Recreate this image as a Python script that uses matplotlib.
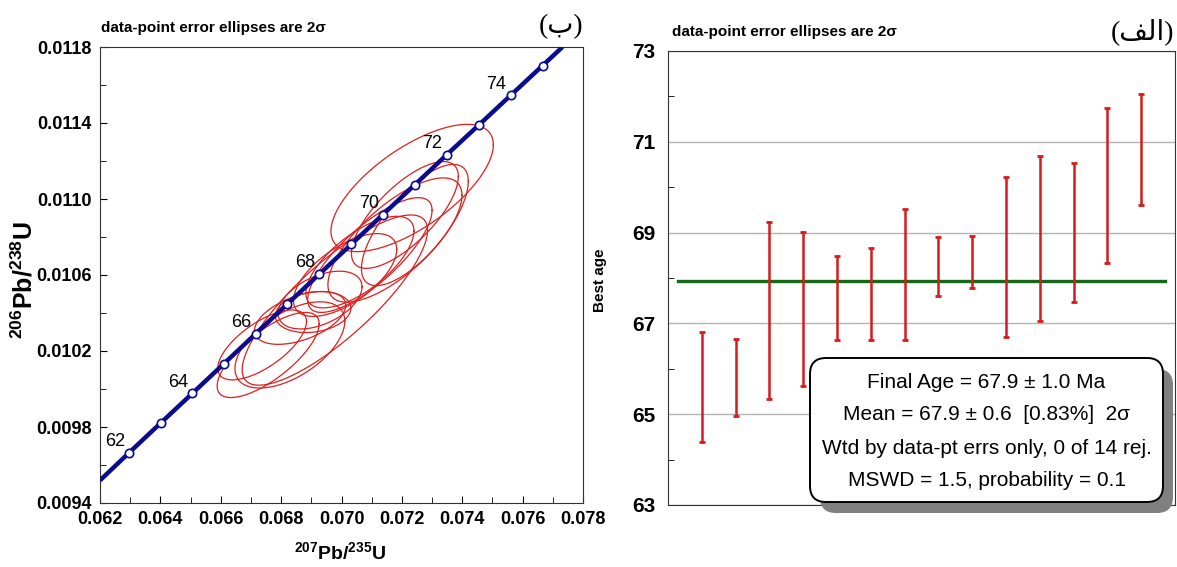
import numpy as np
import matplotlib
matplotlib.use("Agg")
import matplotlib.pyplot as plt
from matplotlib.patches import FancyBboxPatch
from matplotlib.ticker import MultipleLocator

plt.rcParams['font.family'] = ['Liberation Sans', 'DejaVu Sans']
plt.rcParams['mathtext.fontset'] = 'custom'
plt.rcParams['mathtext.rm'] = 'Liberation Sans'
plt.rcParams['mathtext.bf'] = 'Liberation Sans:bold'

# ---- concordia (left panel) ----
conc_age = [62, 63, 64, 65, 66, 67, 68, 69, 70, 71, 72, 73, 74, 75]
conc_x = [0.06296, 0.06401, 0.06506, 0.06611, 0.06716, 0.06821, 0.06926,
          0.07032, 0.07137, 0.07243, 0.07348, 0.07454, 0.07560, 0.07666]
conc_y = [0.009664, 0.009821, 0.009977, 0.010134, 0.010291, 0.010448, 0.010604,
          0.010761, 0.010918, 0.011075, 0.011232, 0.011388, 0.011545, 0.011702]
# where the curve enters / leaves the frame
conc_start = (0.0620, 0.009519)
conc_end = (0.07732, 0.0118)
label_ages = [62, 64, 66, 68, 70, 72, 74]

# error ellipses: centre, 2-sigma errors, error correlation
ell_x = [0.06757, 0.06737, 0.06829, 0.06863, 0.06906, 0.06929, 0.07012,
         0.07061, 0.07094, 0.07177, 0.07210, 0.07243, 0.06978, 0.07234]
ell_y = [0.010179, 0.010232, 0.010232, 0.010374, 0.010405, 0.010468, 0.010600,
         0.010668, 0.010705, 0.010784, 0.010916, 0.010863, 0.010468, 0.011058]
ell_sx = [0.00169, 0.00147, 0.00182, 0.00151, 0.00125, 0.00139, 0.00171,
          0.00179, 0.00206, 0.00222, 0.00177, 0.00177, 0.00307, 0.00269]
ell_sy = [0.000224, 0.000184, 0.000227, 0.000139, 0.000108, 0.000152, 0.000218,
          0.000241, 0.000302, 0.000327, 0.000281, 0.000319, 0.000448, 0.000335]
ell_rho = [0.73, 0.67, 0.55, 0.48, 0.19, 0.46, 0.62,
           0.68, 0.78, 0.72, 0.72, 0.72, 0.82, 0.68]

x_ticks = [0.062, 0.064, 0.066, 0.068, 0.070, 0.072, 0.074, 0.076, 0.078]
y_ticks = [0.0094, 0.0098, 0.0102, 0.0106, 0.0110, 0.0114, 0.0118]

# ---- weighted mean (right panel) ----
age_low = [64.39, 64.96, 65.33, 65.62, 66.63, 66.63, 66.63,
           67.60, 67.78, 66.71, 67.05, 67.48, 68.32, 69.60]
age_high = [66.80, 66.65, 69.23, 69.01, 68.49, 68.65, 69.51,
            68.90, 68.92, 70.22, 70.68, 70.53, 71.74, 72.05]
mean_age = 67.93
age_ticks = [63, 65, 67, 69, 71, 73]
box_lines = ["Final Age = 67.9 \u00b1 1.0 Ma",
             "Mean = 67.9 \u00b1 0.6  [0.83%]  2\u03c3",
             "Wtd by data-pt errs only, 0 of 14 rej.",
             "MSWD = 1.5, probability = 0.1"]

W, H = 1177, 567
fig = plt.figure(figsize=(W / 100, H / 100), dpi=100)
ax1 = fig.add_axes([100 / W, 64 / H, 483 / W, 456 / H])
ax2 = fig.add_axes([668 / W, 62 / H, 507 / W, 454 / H])

# left panel
t = np.linspace(0, 2 * np.pi, 240)
for cx, cy, sx, sy, r in zip(ell_x, ell_y, ell_sx, ell_sy, ell_rho):
    ex = cx + sx * np.cos(t)
    ey = cy + sy * (r * np.cos(t) + np.sqrt(1 - r * r) * np.sin(t))
    ax1.plot(ex, ey, color='#dd1f1f', lw=0.9, zorder=2)

ax1.plot([conc_start[0]] + conc_x + [conc_end[0]],
         [conc_start[1]] + conc_y + [conc_end[1]],
         color='#0b0b8e', lw=3.2, zorder=3, solid_capstyle='butt')
ax1.plot(conc_x, conc_y, 'o', ms=6, mfc='white', mec='#0b0b8e', mew=1.2, zorder=4)
for a, x, y in zip(conc_age, conc_x, conc_y):
    if a in label_ages:
        ax1.annotate(str(a), (x, y), xytext=(-3, 2), textcoords='offset points',
                     ha='right', va='bottom', fontsize=13, zorder=5)

ax1.set_xlim(0.062, 0.078)
ax1.set_ylim(0.0094, 0.0118)
ax1.set_xticks(x_ticks, ['%.3f' % v for v in x_ticks], fontweight='bold', fontsize=13)
ax1.set_yticks(y_ticks, ['%.4f' % v for v in y_ticks], fontweight='bold', fontsize=13)
ax1.xaxis.set_minor_locator(MultipleLocator(0.001))
ax1.yaxis.set_minor_locator(MultipleLocator(0.0002))
ax1.tick_params(which='both', direction='in', top=False, right=False)
ax1.tick_params(which='major', length=5, pad=6)
ax1.tick_params(which='minor', length=4)
for s in ax1.spines.values():
    s.set_color('#333333')

fig.text(340 / W, 1 - 552 / H, r'$\mathbf{^{207}Pb/^{235}U}$', ha='center', va='center',
         fontsize=14)
fig.text(24 / W, 1 - 280 / H, r'$\mathbf{^{206}Pb/^{238}U}$', ha='center', va='center',
         fontsize=18, rotation=90)
fig.text(101 / W, 1 - 28 / H, 'data-point error ellipses are 2\u03c3', fontweight='bold',
         fontsize=11, va='center')
fig.text(583 / W, 1 - 27 / H, '(\uFE8F)', ha='right', va='center', fontsize=20,
         family=['Liberation Serif', 'DejaVu Sans'])

# right panel
pos = np.arange(1, len(age_low) + 1)
lo = np.array(age_low)
hi = np.array(age_high)
mid = (lo + hi) / 2
ax2.errorbar(pos, mid, yerr=[mid - lo, hi - mid], fmt='none', ecolor='#d41c1c',
             elinewidth=1.8, capsize=2.2, capthick=2, zorder=3)
ax2.axhline(mean_age, xmin=0.02, xmax=0.98, color='#16691a', lw=2.4, zorder=2)
ax2.set_xlim(0, 15)
ax2.set_ylim(63, 73)
ax2.set_xticks([])
ax2.set_yticks(age_ticks, [str(v) for v in age_ticks], fontweight='bold', fontsize=15)
ax2.yaxis.set_minor_locator(MultipleLocator(1))
ax2.tick_params(axis='y', which='both', direction='in', pad=9)
ax2.tick_params(axis='y', which='major', length=0)
ax2.tick_params(axis='y', which='minor', length=4)
ax2.grid(axis='y', which='major', color='#b4b4b4', lw=1)
ax2.set_axisbelow(True)
for s in ax2.spines.values():
    s.set_color('#333333')

fig.text(600 / W, 1 - 280 / H, 'Best age', rotation=90, ha='center', va='center',
         fontweight='bold', fontsize=11)
fig.text(672 / W, 1 - 32 / H, 'data-point error ellipses are 2\u03c3', fontweight='bold',
         fontsize=11, va='center')
fig.text(1174 / W, 1 - 32 / H, '(\uFED2\uFEDF\uFE8D)', ha='right', va='center', fontsize=20,
         family=['Liberation Serif', 'DejaVu Sans'])

# summary box with shadow
bx, by, bw, bh = 810, 502, 353, 144
rad = 16
asp = W / H
shadow = FancyBboxPatch(((bx + 10) / W, 1 - (by + 11) / H), bw / W, bh / H,
                        boxstyle='round,pad=0,rounding_size=%f' % (rad / W),
                        mutation_aspect=asp, transform=fig.transFigure,
                        fc='#808080', ec='none', clip_on=False, zorder=10)
box = FancyBboxPatch((bx / W, 1 - by / H), bw / W, bh / H,
                     boxstyle='round,pad=0,rounding_size=%f' % (rad / W),
                     mutation_aspect=asp, transform=fig.transFigure,
                     fc='white', ec='black', lw=1.4, clip_on=False, zorder=11)
ax2.add_patch(shadow)
ax2.add_patch(box)
for i, line in enumerate(box_lines):
    ax2.text((bx + bw / 2) / W, 1 - (382 + 33 * i) / H, line, transform=fig.transFigure,
             ha='center', va='center', fontsize=15, zorder=12)

fig.savefig('out.png', dpi=100)
plt.close(fig)
